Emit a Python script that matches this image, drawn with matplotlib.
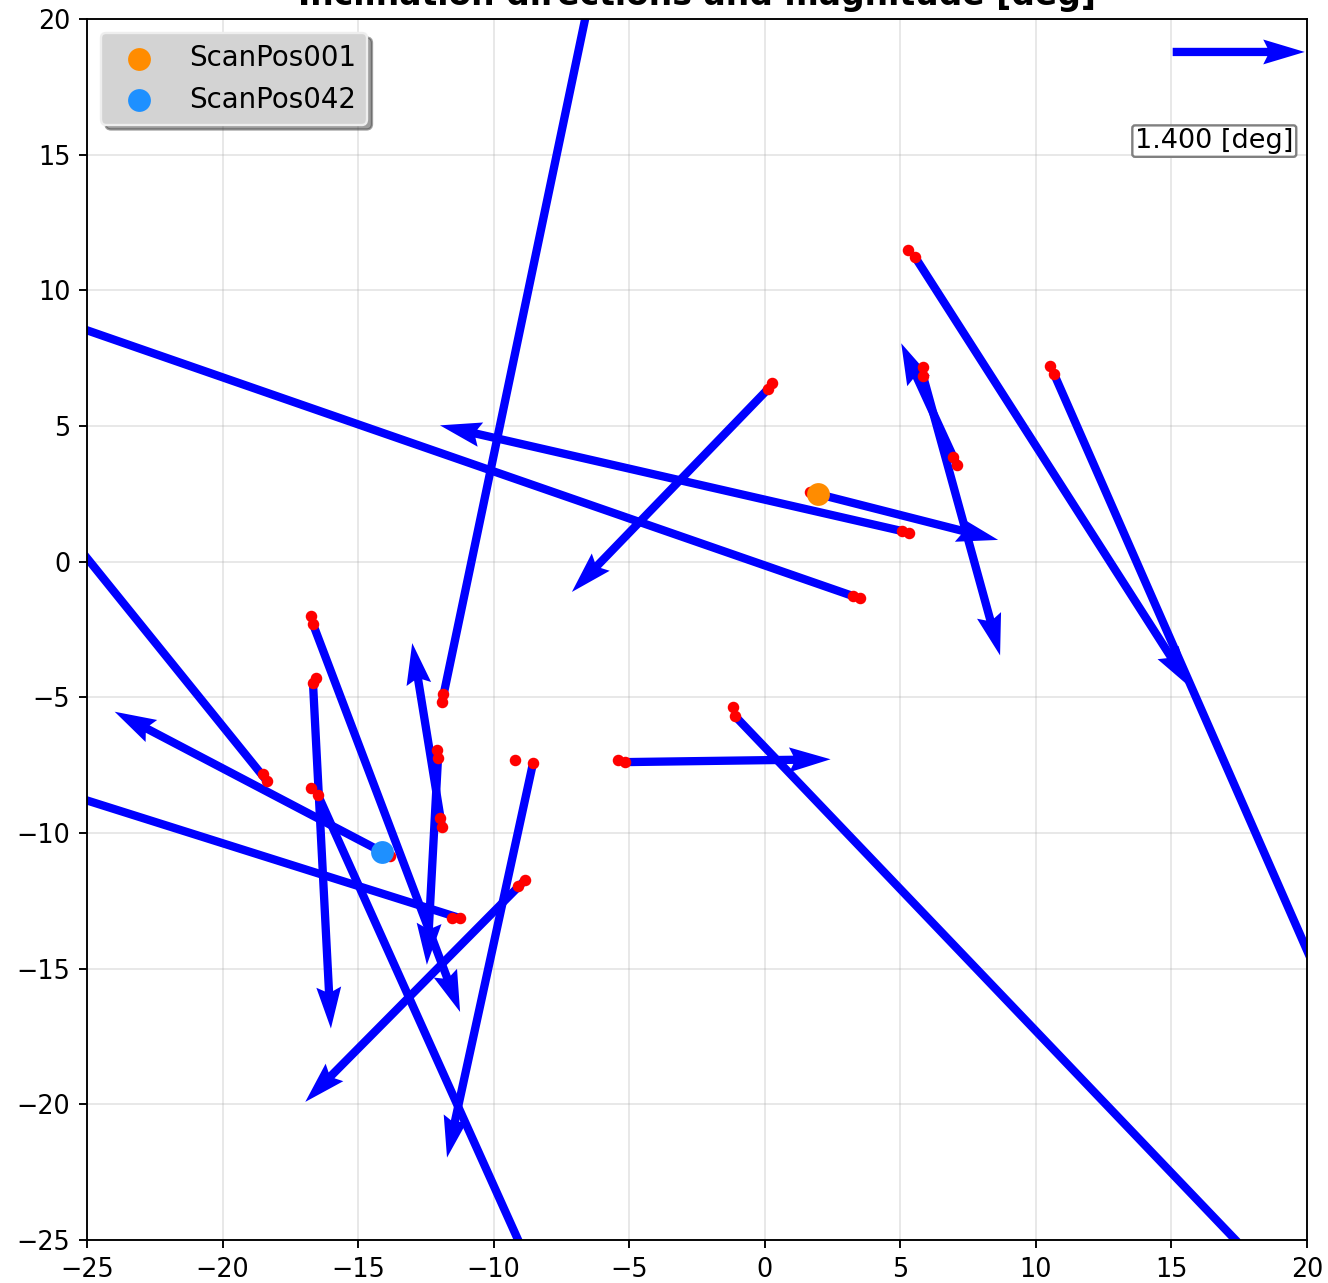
import numpy as np
import matplotlib
matplotlib.use("Agg")
import matplotlib.pyplot as plt

# scan positions (red dots, two per location)
dot_x = [-11.868, -11.905, 3.256, 3.514, 5.063, 5.321, 0.268, 0.120, 1.669, 1.964,
         5.284, 5.542, 10.522, 10.670, 6.944, 7.092, 5.837, 5.837, -1.171, -1.097,
         -5.413, -5.155, -9.213, -8.548, -9.102, -8.844, -11.537, -11.241, -13.823,
         -18.508, -18.360, -16.664, -16.553, -16.737, -16.664, -16.737, -16.479,
         -11.979, -11.905, -12.090, -12.053]
dot_y = [-4.880, -5.175, -1.268, -1.342, 1.128, 1.054, 6.583, 6.362, 2.566, 2.492,
         11.485, 11.227, 7.210, 6.915, 3.855, 3.561, 7.173, 6.841, -5.359, -5.691,
         -7.313, -7.387, -7.313, -7.424, -11.957, -11.736, -13.137, -13.137, -10.852,
         -7.829, -8.087, -4.475, -4.291, -2.005, -2.300, -8.345, -8.603,
         -9.451, -9.783, -6.944, -7.240]

# inclination vectors: start point and components in [deg]
arr_x = [-11.905, 3.256, 5.063, 0.120, 1.964, 5.542, 10.670, 7.092, 5.837, -1.097,
         -5.155, -8.548, -8.844, -11.241, -13.823, -18.360, -16.664, -16.664, -16.479,
         -11.905, -12.053]
arr_y = [-5.175, -1.268, 1.128, 6.362, 2.492, 11.227, 6.915, 3.561, 6.841, -5.691,
         -7.387, -7.424, -11.736, -13.137, -10.852, -8.087, -4.475, -2.300, -8.603,
         -9.783, -7.240]
incl_u = [1.82, -9.75, -4.90, -2.08, 1.91, 2.92, 3.22, -0.592, 0.817, 6.10,
          2.18, -0.912, -2.33, -5.14, -2.92, -2.48, 0.19, 1.56, 2.44,
          -0.316, -0.118]
incl_v = [8.68, 3.38, 1.12, -2.15, -0.486, -4.56, -7.33, 1.29, -2.96, -6.38,
          0.03, -4.18, -2.35, 1.62, 1.53, 3.07, -3.66, -4.11, -5.42,
          1.95, -2.19]

ref_names = ['ScanPos001', 'ScanPos042']
ref_x = [1.964, -14.119]
ref_y = [2.492, -10.704]
ref_colors = ['darkorange', '#1E90FF']

key_value = 1.4
scale = 0.2875

fig = plt.figure(figsize=(1328 / 170, 1283 / 170), dpi=170)
ax = fig.add_axes([0.0655, 0.0335, 0.9187, 0.9517])

Q = ax.quiver(arr_x, arr_y, incl_u, incl_v, color='blue', angles='xy',
              scale_units='xy', scale=scale, width=0.0068, zorder=2)
ax.scatter(dot_x, dot_y, color='red', s=15, zorder=3)
for name, x, y, c in zip(ref_names, ref_x, ref_y, ref_colors):
    ax.scatter(x, y, color=c, s=75, zorder=4, label=name)

ax.quiverkey(Q, 0.944, 0.973, key_value, '', labelpos='S', coordinates='axes')
ax.text(0.924, 0.900, '%.3f [deg]' % key_value, transform=ax.transAxes,
        ha='center', va='center', fontsize=11.5,
        bbox=dict(boxstyle='round,pad=0.1', facecolor='white', edgecolor='gray'))

ax.set_xlim(-25, 20)
ax.set_ylim(-25, 20)
ax.set_xticks(np.arange(-25, 21, 5))
ax.set_yticks(np.arange(-25, 21, 5))
ax.tick_params(labelsize=10.8)
ax.grid(alpha=0.3)
ax.set_title('Inclination directions and magnitude [deg]', fontweight='bold', fontsize=14)

leg = ax.legend(loc='upper left', fontsize=11.7, shadow=True, facecolor='#d3d3d3',
                framealpha=1, edgecolor='#eeeeee')

fig.savefig('out.png', dpi=170)
